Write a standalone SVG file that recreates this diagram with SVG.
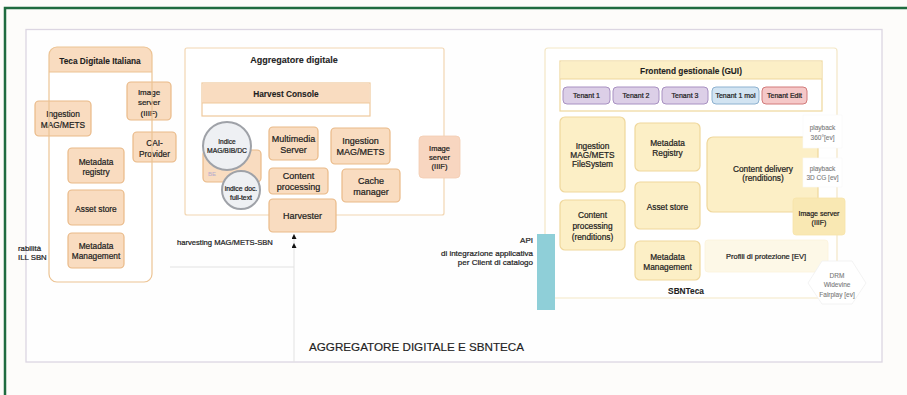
<svg xmlns="http://www.w3.org/2000/svg" width="907" height="395" viewBox="0 0 907 395">
  <defs>
    <style>
      .t { font-family: "Liberation Sans", Arial, sans-serif; font-size: 8.3px; fill: #1e1e1e; stroke: #1e1e1e; stroke-width: 0.22; text-anchor: middle; }
      .m { font-size: 9px; }
      .b { font-weight: bold; stroke-width: 0.1; }
      .s { font-size: 7px; }
      .g { font-size: 6.5px; fill: #7a7a7a; stroke: #7a7a7a; stroke-width: 0.1; }
      .obox { fill: #f9dcc0; stroke: #e9b987; stroke-width: 1.2; }
      .ybox { fill: #fcefc6; stroke: #efd79c; stroke-width: 1.2; }
      .idx { fill: #eef0f3; stroke: #9fa2a8; stroke-width: 2; }
      .wbox { fill: #ffffff; stroke: #f7f7f7; stroke-width: 0.6; }
      .conn { fill: none; stroke: #e2e2e2; stroke-width: 1; }
    </style>
    <marker id="head" viewBox="0 0 6 6" refX="6" refY="3" markerWidth="5" markerHeight="5" markerUnits="userSpaceOnUse" orient="auto">
      <path d="M0,0 L6,3 L0,6 Z" fill="#111"/>
    </marker>
  </defs>

  <!-- page background and outer frame -->
  <rect x="0" y="0" width="907" height="395" fill="#fdfcfa"/>
  <rect x="26" y="29.5" width="856" height="332.5" fill="#fefefe" stroke="#dcd6e2" stroke-width="1.3"/>
  <path d="M5,395 V8 H907" fill="none" stroke="#1f6b3f" stroke-width="2.5"/>

  <!-- Teca Digitale Italiana -->
  <g id="teca-digitale">
    <rect x="49" y="47" width="103" height="235" rx="8" fill="#ffffff"/>
    <path d="M49,72 V55 a8,8 0 0 1 8,-8 H144 a8,8 0 0 1 8,8 V72 Z" fill="#f9dcc0"/>
    <text class="t b" x="100" y="63.5">Teca Digitale Italiana</text>
  </g>
  <g id="teca-ingestion">
    <rect class="obox" x="35" y="101" width="56" height="35" rx="4"/>
    <text class="t" x="63" y="117">Ingestion</text>
    <text class="t" x="63" y="127.5">MAG/METS</text>
  </g>
  <g id="teca-image-server">
    <rect class="obox" x="127" y="82" width="44" height="38" rx="4"/>
    <text class="t" x="149" y="94.5" style="font-size:8px">Image</text>
    <text class="t" x="149" y="104.5" style="font-size:8px">server</text>
    <text class="t" x="149" y="115.5" style="font-size:8px">(IIIF)</text>
  </g>
  <g id="teca-cai-provider">
    <rect class="obox" x="133" y="132" width="43" height="30" rx="4"/>
    <text class="t" x="154.5" y="146">CAI-</text>
    <text class="t" x="154.5" y="156.5">Provider</text>
  </g>
  <g id="teca-metadata-registry">
    <rect class="obox" x="68" y="148" width="56" height="35" rx="4"/>
    <text class="t" x="96" y="164.5">Metadata</text>
    <text class="t" x="96" y="175">registry</text>
  </g>
  <g id="teca-asset-store">
    <rect class="obox" x="68" y="190" width="56" height="35" rx="4"/>
    <text class="t" x="96" y="212">Asset store</text>
  </g>
  <g id="teca-metadata-management">
    <rect class="obox" x="68" y="233" width="56" height="35" rx="4"/>
    <text class="t" x="96" y="248.5">Metadata</text>
    <text class="t" x="96" y="259">Management</text>
  </g>
  <!-- container outline drawn over its children -->
  <g id="teca-outline">
    <rect x="49" y="47" width="103" height="235" rx="8" fill="none" stroke="#ecc393" stroke-width="1.2"/>
    <line x1="49" y1="72" x2="152" y2="72" stroke="#ecc393" stroke-width="1"/>
  </g>
  <g id="label-interoperabilita">
    <text class="t" x="18" y="250.5" style="text-anchor:start;font-size:7.8px">rabilità</text>
    <text class="t" x="18" y="260" style="text-anchor:start;font-size:7.8px">ILL SBN</text>
  </g>

  <!-- Aggregatore digitale -->
  <g id="aggregatore">
    <rect x="185" y="48" width="259" height="167" rx="2" fill="#ffffff" stroke="#f2d6b2" stroke-width="1.2"/>
    <text class="t b" x="294" y="63" style="font-size:9px">Aggregatore digitale</text>
  </g>
  <g id="harvest-console">
    <rect x="202" y="83" width="168" height="33" fill="#ffffff" stroke="#efc99c" stroke-width="1.2"/>
    <rect x="202.6" y="83.6" width="166.8" height="19.4" fill="#f9dcc0"/>
    <line x1="202" y1="103" x2="370" y2="103" stroke="#efc99c" stroke-width="1"/>
    <text class="t b" x="286" y="96.5">Harvest Console</text>
  </g>
  <g id="be">
    <rect class="obox" x="203" y="150" width="58" height="32" rx="4"/>
    <text class="t" x="212" y="176" style="font-size:6px;fill:#b5abcc;stroke:none">BE</text>
  </g>
  <g id="indice-mag">
    <circle class="idx" cx="227" cy="146" r="24"/>
    <text class="t" x="227" y="144" style="font-size:6.5px">Indice</text>
    <text class="t" x="227" y="152.5" style="font-size:6.8px">MAG/BIB/DC</text>
  </g>
  <g id="indice-fulltext">
    <circle class="idx" cx="241" cy="190" r="19"/>
    <text class="t" x="241" y="191" style="font-size:6.8px">indice doc.</text>
    <text class="t" x="241" y="199.5" style="font-size:6.8px">full-text</text>
  </g>
  <g id="multimedia-server">
    <rect class="obox" x="269" y="127" width="49" height="33" rx="4"/>
    <text class="t m" x="293.5" y="141.5">Multimedia</text>
    <text class="t m" x="293.5" y="153">Server</text>
  </g>
  <g id="agg-ingestion">
    <rect class="obox" x="331" y="128" width="59" height="36" rx="4"/>
    <text class="t m" x="360.5" y="143.5">Ingestion</text>
    <text class="t m" x="360.5" y="155">MAG/METS</text>
  </g>
  <g id="content-processing">
    <rect class="obox" x="269" y="168" width="59" height="26" rx="4"/>
    <text class="t m" x="298.5" y="179">Content</text>
    <text class="t m" x="298.5" y="190">processing</text>
  </g>
  <g id="cache-manager">
    <rect class="obox" x="342" y="169" width="58" height="33" rx="4"/>
    <text class="t m" x="371" y="183.5">Cache</text>
    <text class="t m" x="371" y="195">manager</text>
  </g>
  <g id="harvester">
    <rect class="obox" x="269" y="199" width="67" height="33" rx="4"/>
    <text class="t m" x="302.5" y="219">Harvester</text>
  </g>
  <g id="agg-image-server">
    <rect x="419" y="136" width="41" height="42" rx="4" fill="#f8d6c0" stroke="#f3cdb3" stroke-width="0.8"/>
    <text class="t" x="439.5" y="150.5" style="font-size:7.5px">Image</text>
    <text class="t" x="439.5" y="159.5" style="font-size:7.5px">server</text>
    <text class="t" x="439.5" y="168.5" style="font-size:7.5px">(IIIF)</text>
  </g>
  <g id="label-harvesting">
    <text class="t" x="177" y="244.5" style="text-anchor:start;font-size:7.6px">harvesting MAG/METS-SBN</text>
  </g>

  <!-- connectors -->
  <g id="connectors">
    <line class="conn" x1="170" y1="267" x2="294" y2="267" stroke="#f0f0f0"/>
    <polyline class="conn" points="294,362 294,243 294,234" marker-mid="url(#head)" marker-end="url(#head)"/>
  </g>

  <!-- SBNTeca -->
  <g id="sbnteca">
    <rect x="545" y="48" width="292" height="250" rx="3" fill="#ffffff" stroke="#f3e7c6" stroke-width="1.2"/>
    <text class="t b" x="686" y="294">SBNTeca</text>
  </g>
  <g id="frontend-gui">
    <rect x="560" y="61" width="262" height="50" fill="#ffffff" stroke="#efd79c" stroke-width="1.2"/>
    <rect x="560.6" y="61.6" width="260.8" height="17.4" fill="#fcefc6"/>
    <line x1="560" y1="79" x2="822" y2="79" stroke="#efd79c" stroke-width="1"/>
    <text class="t b" x="691" y="74">Frontend gestionale (GUI)</text>
  </g>
  <g id="tenant-1">
    <rect x="563" y="87" width="47" height="17" rx="4" fill="#dccfe7" stroke="#a891c2" stroke-width="1"/>
    <text class="t s" x="586.5" y="98">Tenant 1</text>
  </g>
  <g id="tenant-2">
    <rect x="613" y="87" width="46" height="17" rx="4" fill="#dccfe7" stroke="#a891c2" stroke-width="1"/>
    <text class="t s" x="636" y="98">Tenant 2</text>
  </g>
  <g id="tenant-3">
    <rect x="662" y="87" width="46" height="17" rx="4" fill="#dccfe7" stroke="#a891c2" stroke-width="1"/>
    <text class="t s" x="685" y="98">Tenant 3</text>
  </g>
  <g id="tenant-1-mol">
    <rect x="712" y="87" width="47" height="17" rx="4" fill="#d2e4f2" stroke="#8eb2d0" stroke-width="1"/>
    <text class="t s" x="735.5" y="98">Tenant 1 mol</text>
  </g>
  <g id="tenant-edit">
    <rect x="762" y="87" width="45" height="17" rx="4" fill="#f5c8c8" stroke="#d27b7b" stroke-width="1"/>
    <text class="t s" x="784.5" y="98">Tenant Edit</text>
  </g>
  <g id="sbn-ingestion">
    <rect class="ybox" x="560" y="117" width="65" height="75" rx="5"/>
    <text class="t" x="592.5" y="149">Ingestion</text>
    <text class="t" x="592.5" y="158">MAG/METS</text>
    <text class="t" x="592.5" y="167">FileSystem</text>
  </g>
  <g id="sbn-content-processing">
    <rect class="ybox" x="560" y="200" width="65" height="50" rx="5"/>
    <text class="t" x="592.5" y="218">Content</text>
    <text class="t" x="592.5" y="229">processing</text>
    <text class="t" x="592.5" y="239.5">(renditions)</text>
  </g>
  <g id="sbn-metadata-registry">
    <rect class="ybox" x="635" y="123" width="65" height="48" rx="5"/>
    <text class="t" x="667.5" y="145.5">Metadata</text>
    <text class="t" x="667.5" y="156">Registry</text>
  </g>
  <g id="sbn-asset-store">
    <rect class="ybox" x="635" y="182" width="65" height="47" rx="5"/>
    <text class="t" x="667.5" y="209.5">Asset store</text>
  </g>
  <g id="sbn-metadata-management">
    <rect class="ybox" x="635" y="241" width="65" height="39" rx="5"/>
    <text class="t" x="667.5" y="259.5">Metadata</text>
    <text class="t" x="667.5" y="270">Management</text>
  </g>
  <g id="content-delivery">
    <rect class="ybox" x="707" y="137" width="111" height="75" rx="6"/>
    <text class="t" x="763" y="172">Content delivery</text>
    <text class="t" x="763" y="181">(renditions)</text>
  </g>
  <g id="sbn-image-server">
    <rect x="793" y="198" width="52" height="37" rx="3" fill="#f9e8b3" stroke="#f7e3a8" stroke-width="0.8"/>
    <text class="t" x="819" y="215.5" style="font-size:7px">Image server</text>
    <text class="t" x="819" y="224.5" style="font-size:7px">(IIIF)</text>
  </g>
  <g id="playback-360">
    <rect class="wbox" x="803" y="115" width="39" height="33"/>
    <text class="t g" x="822.5" y="129.5">playback</text>
    <text class="t g" x="822.5" y="139.5">360°[ev]</text>
  </g>
  <g id="playback-3d">
    <rect class="wbox" x="803" y="158" width="39" height="29"/>
    <text class="t g" x="822.5" y="171">playback</text>
    <text class="t g" x="822.5" y="180">3D CG [ev]</text>
  </g>
  <g id="profili-protezione">
    <rect x="705" y="240" width="123" height="32" rx="3" fill="#fdf8e7" stroke="#fbf3dc" stroke-width="0.8"/>
    <text class="t" x="766" y="259" style="font-size:7.5px">Profili di protezione [EV]</text>
  </g>
  <g id="drm">
    <polygon points="808,283 822,261 852,261 866,283 852,304 822,304" fill="#ffffff" stroke="#f0f0f0" stroke-width="0.8"/>
    <text class="t g" x="837" y="277.5">DRM</text>
    <text class="t g" x="837" y="287">Widevine</text>
    <text class="t g" x="837" y="296.5">Fairplay [ev]</text>
  </g>
  <g id="api">
    <rect x="537" y="234" width="18" height="76" fill="#8fcfd8"/>
    <text class="t" x="533" y="242.5" style="text-anchor:end;font-size:8px">API</text>
    <text class="t" x="533" y="255.5" style="text-anchor:end;font-size:8px">di integrazione applicativa</text>
    <text class="t" x="533" y="264.5" style="text-anchor:end;font-size:8px">per Client di catalogo</text>
  </g>

  <!-- page caption -->
  <g id="caption">
    <text class="t" x="309" y="351" style="text-anchor:start;font-size:11.5px;fill:#222;stroke:#222;stroke-width:0.15" textLength="215" lengthAdjust="spacingAndGlyphs">AGGREGATORE DIGITALE E SBNTECA</text>
  </g>
</svg>
